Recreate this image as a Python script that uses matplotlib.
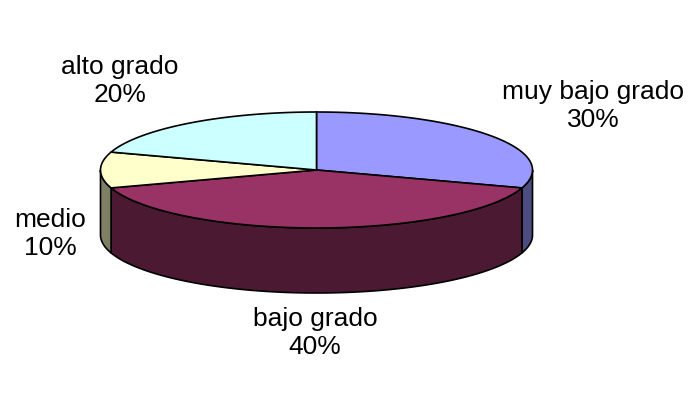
import numpy as np
import matplotlib
matplotlib.use("Agg")
import matplotlib.pyplot as plt
from matplotlib.patches import Polygon

# ---- data ----
categories = ["muy bajo grado", "bajo grado", "medio", "alto grado"]
values = [30, 40, 10, 20]

# ---- styles / layout ----
top_colors = ["#9999FF", "#993366", "#FFFFCC", "#CCFFFF"]
side_colors = ["#4C4C7F", "#4C1933", "#7F7F66", "#667F7F"]
label_xy = [(593, 106), (315, 333), (50, 234), (120, 81)]
cx, cy, rx, ry, depth = 316.5, 170, 216, 58, 65

fig = plt.figure(figsize=(6.99, 4.18), dpi=100)
ax = fig.add_axes([0, 0, 1, 1])
ax.set_xlim(0, 699)
ax.set_ylim(418, 0)
ax.axis("off")

def pt(theta_deg, dy=0.0):
    t = np.radians(theta_deg)
    return cx + rx * np.cos(t), cy - ry * np.sin(t) + dy

total = float(sum(values))
start = 90.0
spans = []
for v in values:
    sweep = 360.0 * v / total
    spans.append((start - sweep, start))  # clockwise
    start -= sweep

# side walls (front half: angles in [-180, 0])
for (a0, a1), sc in zip(spans, side_colors):
    for shift in (0, -360, 360):
        lo, hi = max(a0 + shift, -180), min(a1 + shift, 0)
        if hi > lo:
            th = np.linspace(lo, hi, 80)
            xs, ys = pt(th)
            xb, yb = pt(th[::-1], depth)
            poly = np.column_stack([np.concatenate([xs, xb]), np.concatenate([ys, yb])])
            ax.add_patch(Polygon(poly, closed=True, facecolor=sc,
                                 edgecolor="black", linewidth=1.2, zorder=1))

# top surface
for (a0, a1), tc in zip(spans, top_colors):
    th = np.linspace(a0, a1, 120)
    xs, ys = pt(th)
    poly = np.column_stack([np.concatenate([[cx], xs]), np.concatenate([[cy], ys])])
    ax.add_patch(Polygon(poly, closed=True, facecolor=tc,
                         edgecolor="black", linewidth=1.2, zorder=2))

# labels
for cat, v, (lx, ly) in zip(categories, values, label_xy):
    pct = round(100 * v / total)
    ax.text(lx, ly, f"{cat}\n{pct}%", ha="center", va="center",
            fontsize=19, family="Liberation Sans", color="black",
            linespacing=1.2, zorder=3)

fig.savefig("out.png", dpi=100)
